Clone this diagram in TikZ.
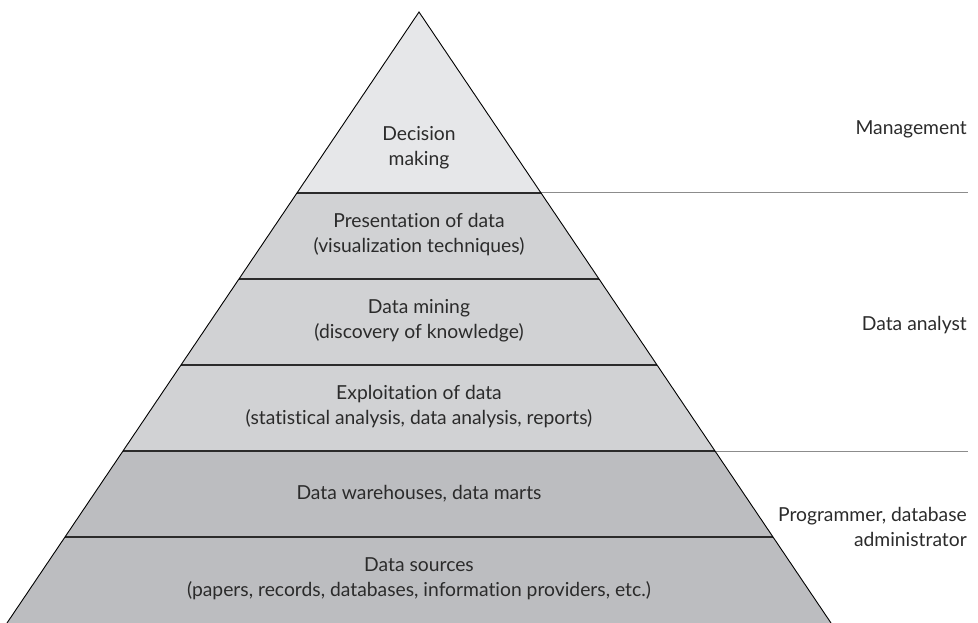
\documentclass[tikz,border=0pt]{standalone}
\usepackage{fontspec}
\setmainfont{Lato}[Ligatures=NoCommon]
\usepackage{tikz}
\usetikzlibrary{positioning}
\definecolor{topgray}{HTML}{E6E7E9}
\definecolor{midgray}{HTML}{D1D2D4}
\definecolor{lowgray}{HTML}{BCBDC0}
\definecolor{inkgray}{HTML}{2B2B2B}
\tikzstyle{layer} = [align=center, text=inkgray, font=\fontsize{19.3}{25}\selectfont, inner sep=0pt]
\tikzstyle{role} = [align=right, anchor=east, text=inkgray, font=\fontsize{19.3}{25}\selectfont, inner sep=0pt]
\tikzstyle{divider} = [draw=inkgray, line width=1.6pt]
\tikzstyle{guide} = [draw=black!45, line width=1pt]
\tikzstyle{outline} = [draw=black, line width=0.9pt, line join=miter]

\begin{document}
\begin{tikzpicture}[x=1pt, y=-1pt]
        \useasboundingbox (0,0) rectangle (978,623);
        % Bands
        \fill [topgray] (419,12) -- (541,193) -- (297,193) -- cycle;
        \fill [midgray] (297,193) -- (541,193) -- (715,451) -- (123,451) -- cycle;
        \fill [lowgray] (123,451) -- (715,451) -- (831,623) -- (7,623) -- cycle;

        % Lines
        \draw [divider] (297,193) -- (541,193);
        \draw [divider] (239,279) -- (599,279);
        \draw [divider] (181,365) -- (657,365);
        \draw [divider] (123,451) -- (715,451);
        \draw [divider] (65,537) -- (773,537);
        \draw [guide] (541,193) -- (968,193);
        \draw [guide] (715,451) -- (968,451);
        \draw [outline] (7,623) -- (419,12) -- (831,623);

        % Nodes
        \node (decide) [layer] at (419,148) {Decision\\making};
        \node (present) [layer] at (419,235) {Presentation of data\\(visualization techniques)};
        \node (mining) [layer] at (419,321) {Data mining\\(discovery of knowledge)};
        \node (exploit) [layer] at (419,407) {Exploitation of data\\(statistical analysis, data analysis, reports)};
        \node (warehouse) [layer] at (419,494) {Data warehouses, data marts};
        \node (sources) [layer] at (419,579) {Data sources\\(papers, records, databases, information providers, etc.)};

        \node (mgmt) [role] at (967,129) {Management};
        \node (analyst) [role] at (967,325) {Data analyst};
        \node (admin) [role] at (967,527) {Programmer, database\\administrator};
    \end{tikzpicture}
\end{document}
